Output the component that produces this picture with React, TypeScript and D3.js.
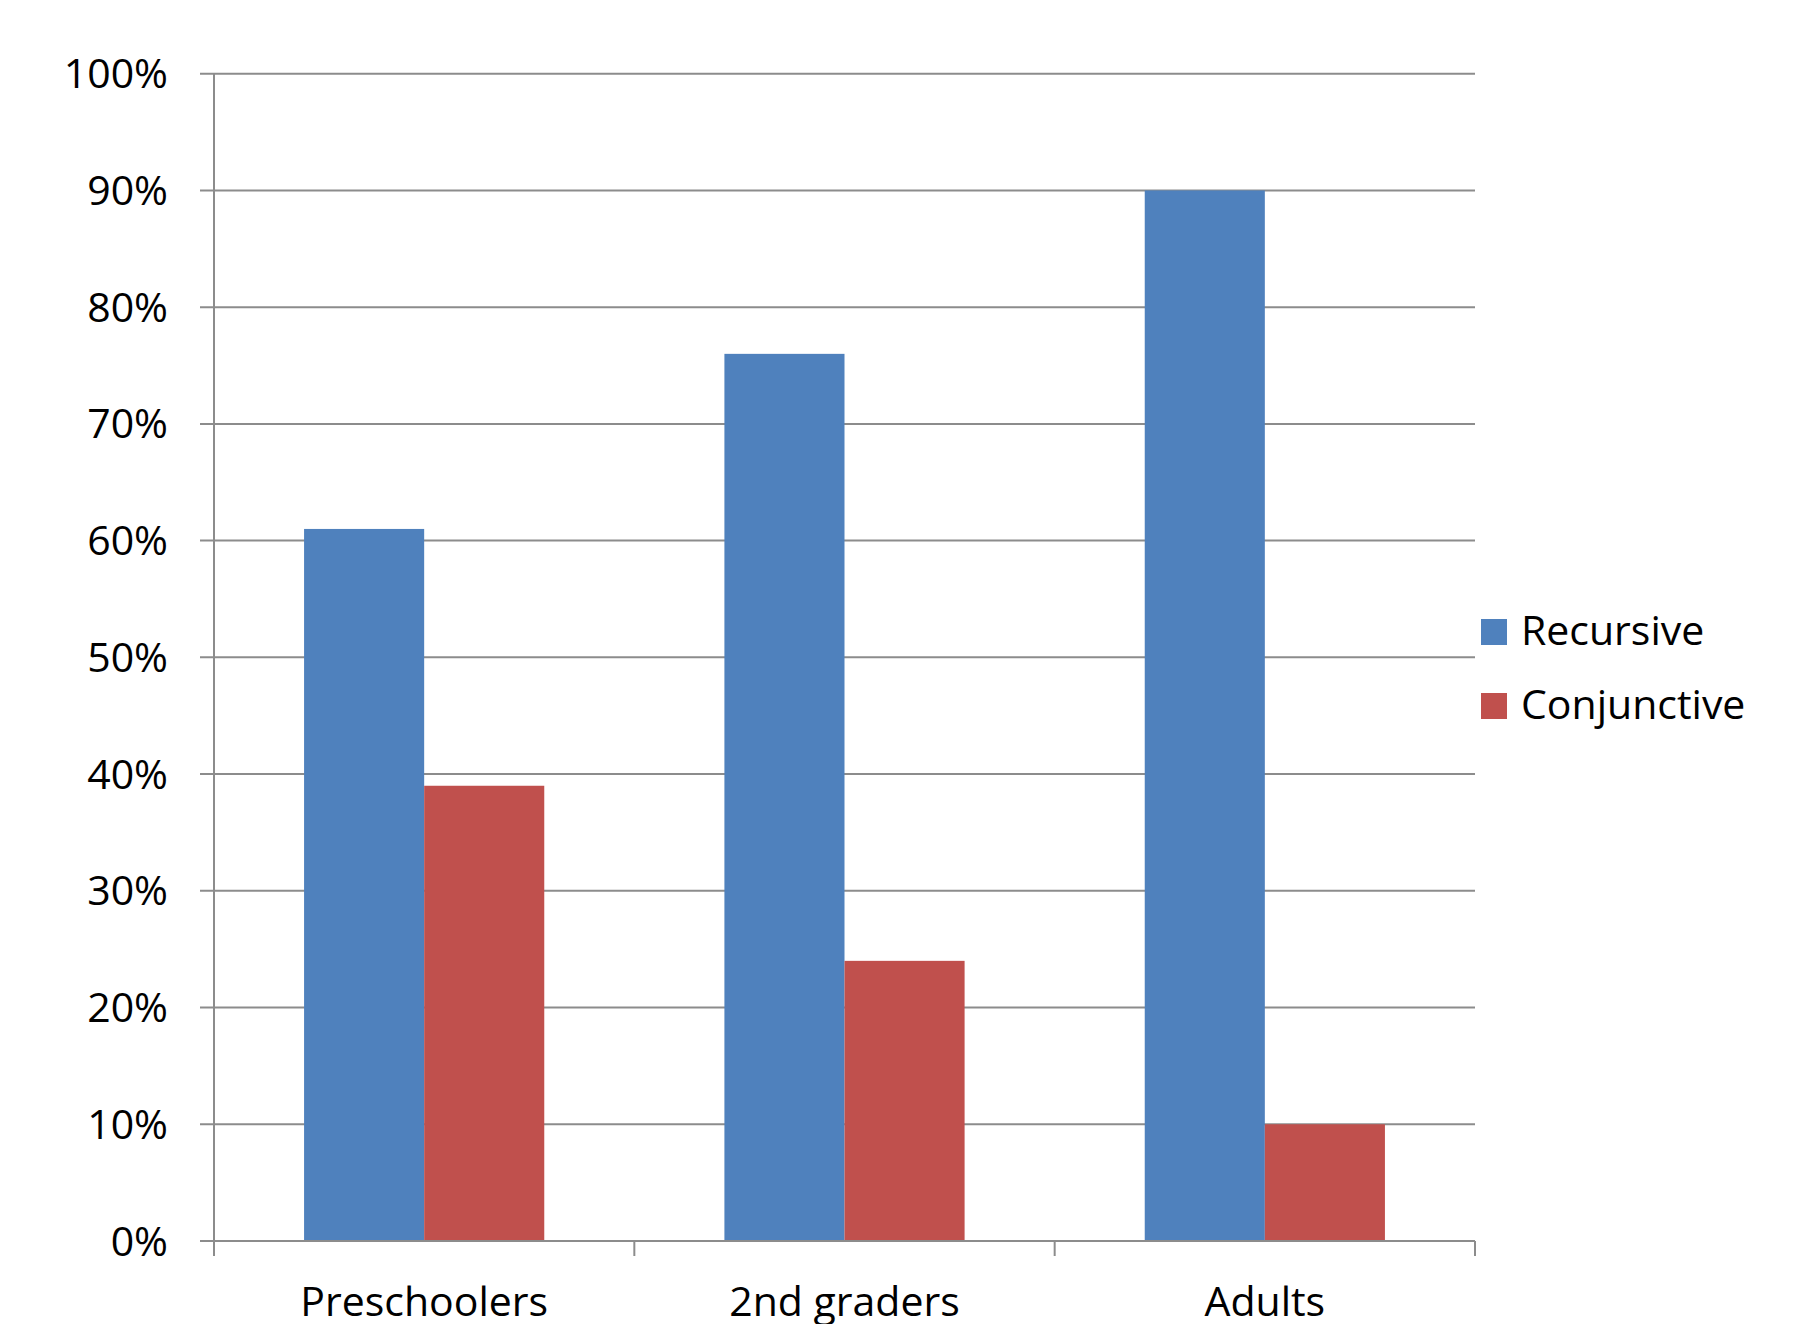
import React from "react";
import * as d3 from "d3";

const categories = ["Preschoolers", "2nd graders", "Adults"];
const seriesNames = ["Recursive", "Conjunctive"];
const recursive = [0.61, 0.76, 0.9];
const conjunctive = [0.39, 0.24, 0.1];
const yTicks = [0, 0.1, 0.2, 0.3, 0.4, 0.5, 0.6, 0.7, 0.8, 0.9, 1.0];
const colors = ["#4F81BD", "#C0504D"];

const W = 1793;
const H = 1324;
const left = 214;
const right = 1475;
const top = 73.7;
const bottom = 1241;
const FONT = "'Open Sans', sans-serif";
const FS = 41;
const GRID = "#8c8c8c";

export default function App() {
  const x = d3.scaleBand<string>().domain(categories).range([left, right]).paddingInner(0).paddingOuter(0);
  const y = d3.scaleLinear().domain([0, 1]).range([bottom, top]);
  const bw = x.bandwidth();
  const barW = bw / (2 + 1.5);
  const inner = d3.scaleBand<string>().domain(seriesNames).range([0, barW * 2]);
  const series = [recursive, conjunctive];
  const fmt = d3.format(".0%");
  const boundaries = [...categories.map((c) => x(c) as number), right];

  return (
    <svg width={W} height={H} style={{ position: "absolute", left: 0, top: 0, background: "#fff" }}>
      <rect width={W} height={H} fill="#fff" />
      {yTicks.map((t) => (
        <g key={t}>
          <line x1={200} x2={right} y1={y(t)} y2={y(t)} stroke={GRID} strokeWidth={2} />
          <text x={168} y={y(t) + 14.5} textAnchor="end" fontFamily={FONT} fontSize={FS} fill="#000">
            {fmt(t)}
          </text>
        </g>
      ))}
      {categories.map((c, i) =>
        series.map((s, j) => {
          const x0 = (x(c) as number) + (bw - barW * 2) / 2 + (inner(seriesNames[j]) as number);
          return (
            <rect key={c + j} x={x0} y={y(s[i])} width={inner.bandwidth()} height={bottom - y(s[i])} fill={colors[j]} />
          );
        })
      )}
      <line x1={left} x2={left} y1={top} y2={bottom + 15} stroke={GRID} strokeWidth={2} />
      <line x1={200} x2={right} y1={bottom} y2={bottom} stroke={GRID} strokeWidth={2} />
      {boundaries.map((b, i) => (
        <line key={i} x1={b} x2={b} y1={bottom} y2={bottom + 15} stroke={GRID} strokeWidth={2} />
      ))}
      {categories.map((c) => (
        <text key={c} x={(x(c) as number) + bw / 2} y={1316} textAnchor="middle" fontFamily={FONT} fontSize={FS} fill="#000">
          {c}
        </text>
      ))}
      {seriesNames.map((n, j) => (
        <g key={n}>
          <rect x={1481} y={619 + j * 74} width={26} height={26} fill={colors[j]} />
          <text x={1521} y={645 + j * 74} fontFamily={FONT} fontSize={FS} fill="#000">
            {n}
          </text>
        </g>
      ))}
    </svg>
  );
}
